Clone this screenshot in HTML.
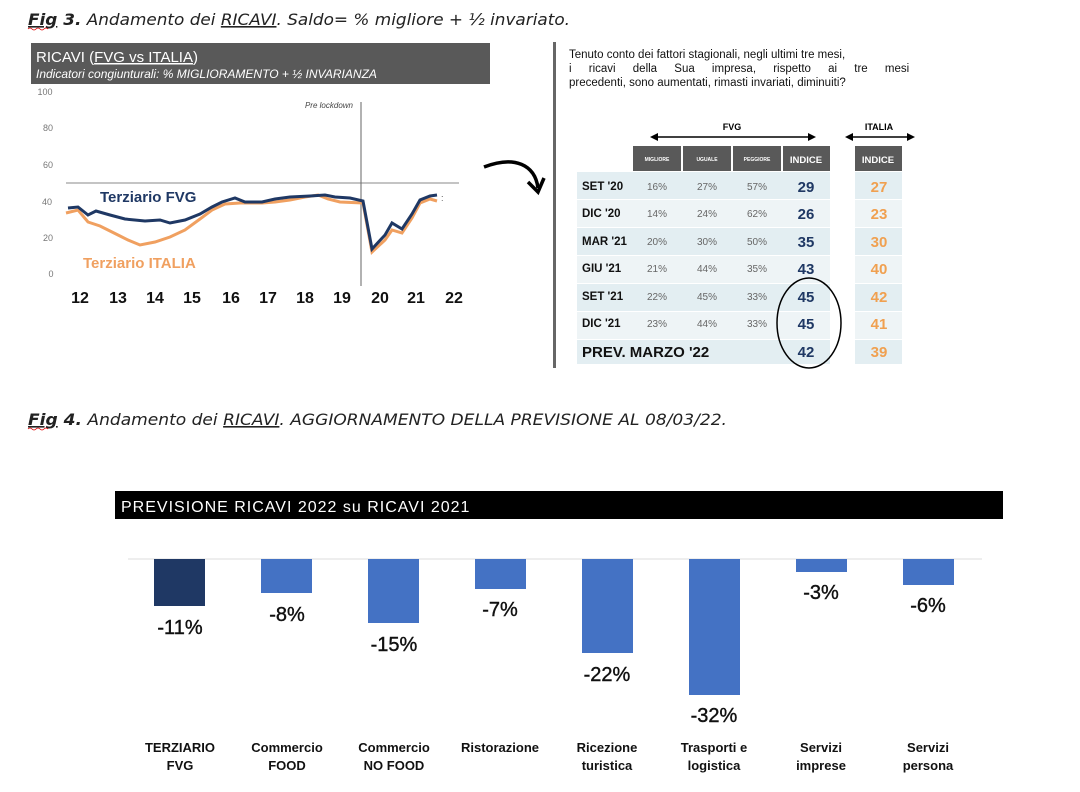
<!DOCTYPE html>
<html><head><meta charset="utf-8"><style>
html,body{margin:0;padding:0;background:#fff}
svg{display:block;font-family:"Liberation Sans",sans-serif}
</style></head><body>
<svg width="1080" height="792" viewBox="0 0 1080 792" xmlns="http://www.w3.org/2000/svg">
<text x="28" y="25" font-size="16" font-style="italic" fill="#222" textLength="542" lengthAdjust="spacingAndGlyphs" font-family="DejaVu Sans, sans-serif"><tspan font-weight="bold" text-decoration="underline">Fig</tspan><tspan font-weight="bold"> 3.</tspan> Andamento dei <tspan text-decoration="underline">RICAVI</tspan>. Saldo= % migliore + ½ invariato.</text>
<path d="M28 29 q2 -2 4 0 t4 0 t4 0 t4 0 t4 0" stroke="#d00" fill="none" stroke-width="0.8"/>

<rect x="31" y="43" width="459" height="41" fill="#595959"/>
<text x="36" y="62" font-size="15" fill="#fff">RICAVI (<tspan text-decoration="underline">FVG vs ITALIA</tspan>)</text>
<text x="36" y="78" font-size="12" font-style="italic" fill="#fff">Indicatori congiunturali: % MIGLIORAMENTO + ½ INVARIANZA</text>
<g font-size="9" fill="#777" text-anchor="middle">
<text x="45" y="95">100</text><text x="48" y="131">80</text><text x="48" y="168">60</text>
<text x="47" y="205">40</text><text x="48" y="241">20</text><text x="51" y="277">0</text>
</g>
<line x1="66" y1="183" x2="459" y2="183" stroke="#888" stroke-width="1"/>
<line x1="361" y1="102" x2="361" y2="286" stroke="#666" stroke-width="1"/>
<text x="353" y="108" font-size="8" font-style="italic" fill="#444" text-anchor="end">Pre lockdown</text>
<polyline fill="none" stroke="#f0a060" stroke-width="3" points="66,213 78,210 88,222 100,226 110,231 120,236 128,240 140,245 155,242 170,237 185,230 200,219 212,210 225,204 240,203 262,203 275,202 290,200 305,197 318,195 328,199 340,202 363,203 372,252 385,240 392,230 402,233 412,218 420,203 430,199 437,201"/>
<polyline fill="none" stroke="#1f3864" stroke-width="3" points="68,208 78,207 88,215 96,211 110,215 125,219 145,221 160,220 170,223 185,220 200,214 212,207 222,202 235,198 245,202 262,202 275,199 290,197 310,196 325,195 335,197 350,198 363,201 372,249 385,235 392,223 402,229 412,214 420,200 430,196 437,195"/>
<text x="441" y="201" font-size="9" fill="#555">:</text>
<text x="100" y="202" font-size="15" font-weight="bold" fill="#1f3864">Terziario FVG</text>
<text x="83" y="268" font-size="15" font-weight="bold" fill="#f0a060">Terziario ITALIA</text>
<g font-size="16" font-weight="bold" fill="#111" text-anchor="middle">
<text x="80" y="303">12</text><text x="118" y="303">13</text><text x="155" y="303">14</text>
<text x="192" y="303">15</text><text x="231" y="303">16</text><text x="268" y="303">17</text>
<text x="305" y="303">18</text><text x="342" y="303">19</text><text x="380" y="303">20</text>
<text x="416" y="303">21</text><text x="454" y="303">22</text>
</g>
<path d="M484 167 C515 155 535 165 538 188" stroke="#000" stroke-width="3.5" fill="none"/>
<path d="M528 182 L538 192 L544 178" stroke="#000" stroke-width="3.5" fill="none"/>

<rect x="553" y="42" width="3" height="326" fill="#666"/>
<g font-size="11.5" fill="#111">
<text x="569" y="58">Tenuto conto dei fattori stagionali, negli ultimi tre mesi,</text>
<text x="569" y="72" word-spacing="14">i ricavi della Sua impresa, rispetto ai tre mesi</text>
<text x="569" y="86">precedenti, sono aumentati, rimasti invariati, diminuiti?</text>
</g>
<text x="732" y="130" font-size="9" font-weight="bold" text-anchor="middle">FVG</text>
<text x="879" y="130" font-size="9" font-weight="bold" text-anchor="middle">ITALIA</text>
<line x1="656" y1="137" x2="810" y2="137" stroke="#000" stroke-width="1.5"/>
<path d="M650 137 l8 -4 v8z M816 137 l-8 -4 v8z M845 137 l8 -4 v8z M915 137 l-8 -4 v8z" fill="#000"/>
<line x1="851" y1="137" x2="909" y2="137" stroke="#000" stroke-width="1.5"/>
<g fill="#595959">
<rect x="633" y="146" width="48" height="25"/><rect x="683" y="146" width="48" height="25"/>
<rect x="733" y="146" width="48" height="25"/><rect x="783" y="146" width="47" height="25"/>
<rect x="855" y="146" width="47" height="25"/>
</g>
<g fill="#fff" font-weight="bold" text-anchor="middle">
<text x="657" y="161" font-size="5">MIGLIORE</text><text x="707" y="161" font-size="5">UGUALE</text>
<text x="757" y="161" font-size="5">PEGGIORE</text>
<text x="806" y="163" font-size="9.5">INDICE</text><text x="878" y="163" font-size="9.5">INDICE</text>
</g>
<g>
<rect x="577" y="172" width="253" height="27" fill="#e3eef2"/><rect x="855" y="172" width="47" height="27" fill="#e3eef2"/>
<rect x="577" y="200" width="253" height="27" fill="#eef4f6"/><rect x="855" y="200" width="47" height="27" fill="#eef4f6"/>
<rect x="577" y="228" width="253" height="27" fill="#e3eef2"/><rect x="855" y="228" width="47" height="27" fill="#e3eef2"/>
<rect x="577" y="256" width="253" height="27" fill="#eef4f6"/><rect x="855" y="256" width="47" height="27" fill="#eef4f6"/>
<rect x="577" y="284" width="253" height="27" fill="#e3eef2"/><rect x="855" y="284" width="47" height="27" fill="#e3eef2"/>
<rect x="577" y="312" width="253" height="27" fill="#eef4f6"/><rect x="855" y="312" width="47" height="27" fill="#eef4f6"/>
<rect x="577" y="340" width="253" height="24" fill="#e3eef2"/><rect x="855" y="340" width="47" height="24" fill="#e3eef2"/>
</g>
<g font-size="11.5" font-weight="bold" fill="#111">
<text x="582" y="190">SET '20</text><text x="582" y="217">DIC '20</text><text x="582" y="245">MAR '21</text>
<text x="582" y="272">GIU '21</text><text x="582" y="300">SET '21</text><text x="582" y="327">DIC '21</text>
<text x="582" y="357" font-size="15">PREV.  MARZO '22</text>
</g>
<g font-size="10" fill="#666" text-anchor="middle">
<text x="657" y="190">16%</text><text x="707" y="190">27%</text><text x="757" y="190">57%</text>
<text x="657" y="217">14%</text><text x="707" y="217">24%</text><text x="757" y="217">62%</text>
<text x="657" y="245">20%</text><text x="707" y="245">30%</text><text x="757" y="245">50%</text>
<text x="657" y="272">21%</text><text x="707" y="272">44%</text><text x="757" y="272">35%</text>
<text x="657" y="300">22%</text><text x="707" y="300">45%</text><text x="757" y="300">33%</text>
<text x="657" y="327">23%</text><text x="707" y="327">44%</text><text x="757" y="327">33%</text>
</g>
<g font-size="15" font-weight="bold" fill="#1f3864" text-anchor="middle">
<text x="806" y="192">29</text><text x="806" y="219">26</text><text x="806" y="247">35</text>
<text x="806" y="274">43</text><text x="806" y="302">45</text><text x="806" y="329">45</text><text x="806" y="357">42</text>
</g>
<g font-size="15" font-weight="bold" fill="#f0a050" text-anchor="middle">
<text x="879" y="192">27</text><text x="879" y="219">23</text><text x="879" y="247">30</text>
<text x="879" y="274">40</text><text x="879" y="302">42</text><text x="879" y="329">41</text><text x="879" y="357">39</text>
</g>
<ellipse cx="809" cy="323" rx="32" ry="45" fill="none" stroke="#000" stroke-width="1.5"/>

<text x="28" y="425" font-size="16" font-style="italic" fill="#222" textLength="699" lengthAdjust="spacingAndGlyphs" font-family="DejaVu Sans, sans-serif"><tspan font-weight="bold" text-decoration="underline">Fig</tspan><tspan font-weight="bold"> 4.</tspan> Andamento dei <tspan text-decoration="underline">RICAVI</tspan>. AGGIORNAMENTO DELLA PREVISIONE AL 08/03/22.</text>
<path d="M28 429 q2 -2 4 0 t4 0 t4 0 t4 0 t4 0" stroke="#d00" fill="none" stroke-width="0.8"/>

<rect x="115" y="491" width="888" height="28" fill="#000"/>
<text x="121" y="512" font-size="16" fill="#fff" letter-spacing="1">PREVISIONE RICAVI 2022 su RICAVI 2021</text>
<line x1="128" y1="559" x2="982" y2="559" stroke="#ddd" stroke-width="1"/>
<g fill="#4472c4">
<rect x="154" y="559" width="51" height="47" fill="#1f3864"/>
<rect x="261" y="559" width="51" height="34"/>
<rect x="368" y="559" width="51" height="64"/>
<rect x="475" y="559" width="51" height="30"/>
<rect x="582" y="559" width="51" height="94"/>
<rect x="689" y="559" width="51" height="136"/>
<rect x="796" y="559" width="51" height="13"/>
<rect x="903" y="559" width="51" height="26"/>
</g>
<g font-size="20" fill="#111" text-anchor="middle" stroke="#111" stroke-width="0.4">
<text x="180" y="634">-11%</text><text x="287" y="621">-8%</text><text x="394" y="651">-15%</text>
<text x="500" y="616">-7%</text><text x="607" y="681">-22%</text><text x="714" y="722">-32%</text>
<text x="821" y="599">-3%</text><text x="928" y="612">-6%</text>
</g>
<g font-size="13" font-weight="bold" fill="#111" text-anchor="middle">
<text x="180" y="752">TERZIARIO</text><text x="180" y="770">FVG</text>
<text x="287" y="752">Commercio</text><text x="287" y="770">FOOD</text>
<text x="394" y="752">Commercio</text><text x="394" y="770">NO FOOD</text>
<text x="500" y="752">Ristorazione</text>
<text x="607" y="752">Ricezione</text><text x="607" y="770">turistica</text>
<text x="714" y="752">Trasporti e</text><text x="714" y="770">logistica</text>
<text x="821" y="752">Servizi</text><text x="821" y="770">imprese</text>
<text x="928" y="752">Servizi</text><text x="928" y="770">persona</text>
</g>
</svg>
</body></html>
